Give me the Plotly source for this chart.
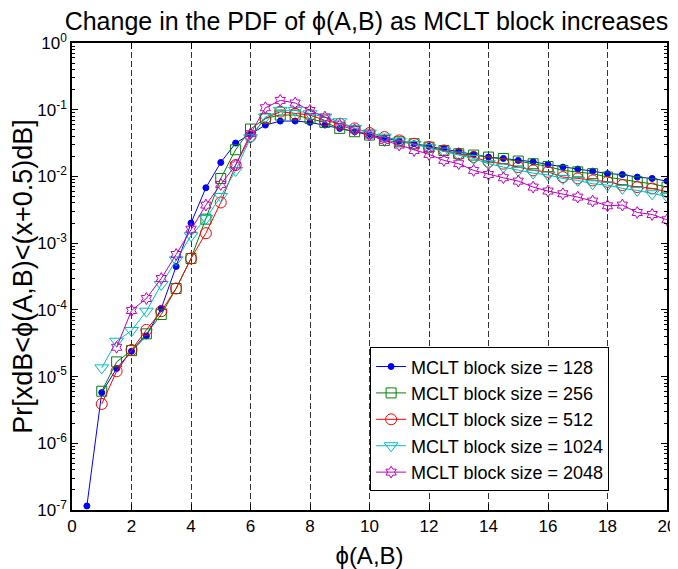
import plotly.graph_objects as go

# ---------------- data ----------------
x_128 = [0.5, 1, 1.5, 2, 2.5, 3, 3.5, 4, 4.5, 5, 5.5, 6, 6.5, 7, 7.5, 8, 8.5, 9, 9.5, 10,
         10.5, 11, 11.5, 12, 12.5, 13, 13.5, 14, 14.5, 15, 15.5, 16, 16.5, 17, 17.5, 18,
         18.5, 19, 19.5, 20]
y_128 = [1.15e-7, 5.75e-6, 1.32e-5, 2.40e-5, 4.07e-5, 1.05e-4, 4.47e-4, 2.00e-3, 6.76e-3, 1.62e-2,
         3.16e-2, 4.27e-2, 5.89e-2, 6.76e-2, 6.76e-2, 6.46e-2, 5.89e-2, 5.25e-2, 4.68e-2, 4.17e-2,
         3.72e-2, 3.39e-2, 3.09e-2, 2.82e-2, 2.63e-2, 2.40e-2, 2.14e-2, 1.95e-2, 1.86e-2, 1.74e-2,
         1.66e-2, 1.51e-2, 1.38e-2, 1.29e-2, 1.20e-2, 1.10e-2, 1.07e-2, 9.77e-3, 9.33e-3, 8.51e-3]

x_256 = [1, 1.5, 2, 2.5, 3, 3.5, 4, 4.5, 5, 5.5, 6, 6.5, 7, 7.5, 8, 8.5, 9, 9.5, 10,
         10.5, 11, 11.5, 12, 12.5, 13, 13.5, 14, 14.5, 15, 15.5, 16, 16.5, 17, 17.5, 18,
         18.5, 19, 19.5, 20]
y_256 = [6.03e-6, 1.66e-5, 2.45e-5, 4.37e-5, 8.51e-5, 2.09e-4, 5.89e-4, 2.29e-3, 9.33e-3,
         2.51e-2, 5.13e-2, 7.41e-2, 8.32e-2, 8.32e-2, 7.41e-2, 6.46e-2, 5.25e-2, 4.68e-2, 4.17e-2,
         3.47e-2, 3.31e-2, 3.09e-2, 2.75e-2, 2.45e-2, 2.19e-2, 2.09e-2, 1.95e-2, 1.86e-2, 1.70e-2,
         1.55e-2, 1.41e-2, 1.23e-2, 1.17e-2, 1.10e-2, 9.77e-3, 8.91e-3, 8.32e-3, 7.76e-3, 6.92e-3]

x_512 = [1, 1.5, 2, 2.5, 3, 3.5, 4, 4.5, 5, 5.5, 6, 6.5, 7, 7.5, 8, 8.5, 9, 9.5, 10,
         10.5, 11, 11.5, 12, 12.5, 13, 13.5, 14, 14.5, 15, 15.5, 16, 16.5, 17, 17.5, 18,
         18.5, 19, 19.5, 20]
y_512 = [3.89e-6, 1.20e-5, 2.51e-5, 5.01e-5, 9.55e-5, 2.09e-4, 5.89e-4, 1.41e-3, 4.07e-3,
         1.48e-2, 3.98e-2, 7.41e-2, 9.33e-2, 8.71e-2, 8.32e-2, 6.92e-2, 6.17e-2, 5.25e-2, 4.47e-2,
         3.89e-2, 3.47e-2, 3.09e-2, 2.75e-2, 2.45e-2, 2.14e-2, 1.95e-2, 1.66e-2, 1.55e-2, 1.38e-2,
         1.23e-2, 1.17e-2, 9.77e-3, 9.33e-3, 8.71e-3, 8.32e-3, 7.41e-3, 6.92e-3, 6.61e-3, 5.89e-3]

x_1024 = [1, 1.5, 2, 2.5, 3, 3.5, 4, 4.5, 5, 5.5, 6, 6.5, 7, 7.5, 8, 8.5, 9, 9.5, 10,
          10.5, 11, 11.5, 12, 12.5, 13, 13.5, 14, 14.5, 15, 15.5, 16, 16.5, 17, 17.5, 18,
          18.5, 19, 19.5, 20]
y_1024 = [1.35e-5, 3.39e-5, 4.90e-5, 9.55e-5, 2.40e-4, 5.62e-4, 1.29e-3, 2.34e-3, 5.01e-3,
          1.23e-2, 3.80e-2, 7.76e-2, 9.77e-2, 9.77e-2, 8.71e-2, 7.76e-2, 6.61e-2, 5.25e-2, 4.47e-2,
          3.89e-2, 3.39e-2, 3.02e-2, 2.69e-2, 2.40e-2, 2.09e-2, 1.86e-2, 1.55e-2, 1.38e-2, 1.23e-2,
          1.12e-2, 1.05e-2, 9.33e-3, 8.71e-3, 7.76e-3, 7.41e-3, 6.61e-3, 6.17e-3, 5.50e-3, 5.01e-3]

x_2048 = [1.5, 2, 2.5, 3, 3.5, 4, 4.5, 5, 5.5, 6, 6.5, 7, 7.5, 8, 8.5, 9, 9.5, 10,
          10.5, 11, 11.5, 12, 12.5, 13, 13.5, 14, 14.5, 15, 15.5, 16, 16.5, 17, 17.5, 18,
          18.5, 19, 19.5, 20]
y_2048 = [2.75e-5, 9.77e-5, 1.48e-4, 2.95e-4, 6.76e-4, 1.62e-3, 3.72e-3, 7.59e-3, 1.48e-2,
          4.37e-2, 1.07e-1, 1.38e-1, 1.26e-1, 9.77e-2, 7.76e-2, 5.89e-2, 5.01e-2, 4.17e-2,
          3.47e-2, 2.95e-2, 2.45e-2, 2.14e-2, 1.74e-2, 1.55e-2, 1.23e-2, 1.07e-2, 9.55e-3, 8.51e-3,
          6.92e-3, 6.03e-3, 5.50e-3, 4.90e-3, 4.27e-3, 3.63e-3, 3.72e-3, 2.88e-3, 2.69e-3, 2.24e-3]

series_names = ["MCLT block size = 128", "MCLT block size = 256", "MCLT block size = 512",
                "MCLT block size = 1024", "MCLT block size = 2048"]

y_tick_vals = [1e-7, 1e-6, 1e-5, 1e-4, 1e-3, 1e-2, 1e-1, 1e0]
y_tick_text = ["10<sup>-7</sup>", "10<sup>-6</sup>", "10<sup>-5</sup>", "10<sup>-4</sup>",
               "10<sup>-3</sup>", "10<sup>-2</sup>", "10<sup>-1</sup>", "10<sup>0</sup>"]
x_tick_vals = [0, 2, 4, 6, 8, 10, 12, 14, 16, 18, 20]

# ---------------- styles ----------------
FONT = "Liberation Sans, Arial, sans-serif"
styles = [
    dict(color="#0000FF", symbol="circle", size=6),
    dict(color="#008000", symbol="square-open", size=10),
    dict(color="#FF0000", symbol="circle-open", size=11),
    dict(color="#00BFBF", symbol="triangle-down-open", size=12),
    dict(color="#BF00BF", symbol="hexagram-open", size=9),
]
xs = [x_128, x_256, x_512, x_1024, x_2048]
ys = [y_128, y_256, y_512, y_1024, y_2048]

fig = go.Figure()
for name, x, y, st in zip(series_names, xs, ys, styles):
    fig.add_trace(go.Scatter(
        x=x, y=y, name=name, mode="lines+markers",
        line=dict(color=st["color"], width=1),
        marker=dict(symbol=st["symbol"], size=st["size"], color=st["color"],
                    line=dict(color=st["color"], width=1)),
    ))

# minor tick positions on the log axis (2..9 x 10^n)
minor_vals = [m * 10.0 ** e for e in range(-7, 0) for m in range(2, 10)]

# the page body adds an 8px offset, so the figure is drawn 8px smaller
fig.update_layout(
    width=670, height=561,
    margin=dict(l=64, r=11, t=35, b=59, autoexpand=False),
    paper_bgcolor="white", plot_bgcolor="white",
    font=dict(family=FONT, color="black", size=16),
    title=dict(text="Change in the PDF of \u03d5(A,B) as MCLT block increases",
               x=0.535, xref="container", xanchor="center",
               y=0.9768, yref="container", yanchor="middle",
               font=dict(family=FONT, size=25, color="black")),
    showlegend=True,
    legend=dict(x=0.501, y=0.04, xanchor="left", yanchor="bottom",
                bgcolor="white", bordercolor="black", borderwidth=1,
                font=dict(family=FONT, size=18, color="black"),
                tracegroupgap=0),
)

fig.update_xaxes(
    range=[0, 20], tickmode="array", tickvals=x_tick_vals,
    ticks="inside", ticklen=6, tickwidth=1, tickcolor="black",
    showline=True, linecolor="black", linewidth=1.5, mirror="allticks",
    showgrid=True, gridcolor="#333333", gridwidth=1, griddash="6px,3px",
    zeroline=False, automargin=False,
    tickfont=dict(family=FONT, size=17, color="black"),
    title=dict(text="\u03d5(A,B)", font=dict(family=FONT, size=24, color="black"), standoff=14),
)

fig.update_yaxes(
    type="log", range=[-7, 0],
    tickmode="array", tickvals=y_tick_vals, ticktext=y_tick_text,
    ticks="inside", ticklen=6, tickwidth=1, tickcolor="black",
    minor=dict(tickmode="array", tickvals=minor_vals, ticks="inside", ticklen=3,
               tickcolor="black", showgrid=False),
    showline=True, linecolor="black", linewidth=1.5, mirror="allticks",
    showgrid=False, zeroline=False, automargin=False,
    tickfont=dict(family=FONT, size=17, color="black"),
    title=dict(text="Pr[xdB&lt;\u03d5(A,B)&lt;(x+0.5)dB]",
               font=dict(family=FONT, size=27, color="black"), standoff=7),
)

fig.write_html("out.html")
